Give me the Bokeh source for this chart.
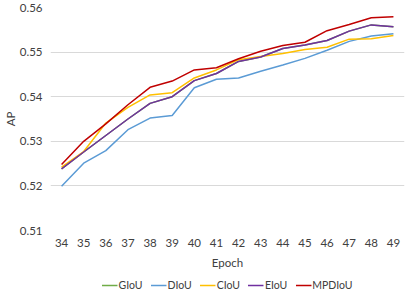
from bokeh.plotting import figure
from bokeh.layouts import column
from bokeh.models import Legend, LegendItem, Range1d, FixedTicker, CustomJSTickFormatter
from bokeh.embed import file_html
from bokeh.resources import INLINE

epochs = [34, 35, 36, 37, 38, 39, 40, 41, 42, 43, 44, 45, 46, 47, 48, 49]
eiou = [0.5238, 0.5276, 0.5313, 0.5350, 0.5385, 0.5400, 0.5436, 0.5452,
        0.5479, 0.5489, 0.5508, 0.5516, 0.5526, 0.5547, 0.5561, 0.5557]
giou = list(eiou)
diou = [0.5199, 0.5251, 0.5279, 0.5326, 0.5352, 0.5358, 0.5420, 0.5439,
        0.5442, 0.5457, 0.5471, 0.5486, 0.5504, 0.5524, 0.5536, 0.5541]
ciou = [0.5242, 0.5277, 0.5341, 0.5376, 0.5404, 0.5409, 0.5442, 0.5460,
        0.5483, 0.5490, 0.5497, 0.5506, 0.5511, 0.5529, 0.5530, 0.5537]
mpdiou = [0.5248, 0.5300, 0.5339, 0.5382, 0.5421, 0.5435, 0.5460, 0.5465,
          0.5485, 0.5502, 0.5515, 0.5522, 0.5548, 0.5562, 0.5577, 0.5579]
y_ticks = [0.51, 0.52, 0.53, 0.54, 0.55, 0.56]

series = [("GIoU", giou, "#70AD47"), ("DIoU", diou, "#5B9BD5"),
          ("CIoU", ciou, "#FFC000"), ("EIoU", eiou, "#7030A0"),
          ("MPDIoU", mpdiou, "#C00000")]

FONT = "Lato"
TXT = "#404040"
FS = "11.5px"

p = figure(frame_width=354, frame_height=223, output_backend="svg",
           toolbar_location=None,
           x_range=Range1d(33.5, 49.5), y_range=Range1d(0.51, 0.56),
           min_border_left=50, min_border_right=3, min_border_top=7,
           min_border_bottom=42, outline_line_color=None)

for name, vals, col in series:
    p.line(epochs, vals, line_color=col, line_width=1.5)

p.xaxis.ticker = FixedTicker(ticks=epochs)
p.yaxis.ticker = FixedTicker(ticks=y_ticks)
p.yaxis.formatter = CustomJSTickFormatter(code="return tick.toFixed(2);")

for ax in (p.xaxis[0], p.yaxis[0]):
    ax.axis_line_color = None
    ax.major_tick_line_color = None
    ax.minor_tick_line_color = None
    ax.major_tick_out = 0
    ax.major_tick_in = 0
    ax.major_label_text_font = FONT
    ax.major_label_text_font_size = FS
    ax.major_label_text_color = TXT
    ax.axis_label_text_font = FONT
    ax.axis_label_text_font_size = FS
    ax.axis_label_text_font_style = "normal"
    ax.axis_label_text_color = TXT

p.xaxis.axis_label = "Epoch"
p.yaxis.axis_label = "AP"
p.xaxis.major_label_standoff = 8
p.xaxis.axis_label_standoff = 6
p.yaxis.major_label_standoff = 8
p.yaxis.axis_label_standoff = 0

p.xgrid.grid_line_color = None
p.ygrid.grid_line_color = "#D9D9D9"
p.ygrid.grid_line_width = 1

# legend strip (its lines lie outside its visible ranges; only the legend shows)
lg = figure(width=407, height=25, output_backend="svg", toolbar_location=None,
            x_axis_location=None, y_axis_location=None,
            x_range=Range1d(0, 1), y_range=Range1d(0, 1),
            min_border_left=0, min_border_right=0, min_border_top=0,
            min_border_bottom=0, outline_line_color=None)
lg.xgrid.grid_line_color = None
lg.ygrid.grid_line_color = None
items = []
for name, vals, col in series:
    r = lg.line(epochs, vals, line_color=col, line_width=1.5)
    items.append(LegendItem(label=name, renderers=[r]))

legend = Legend(items=items, orientation="horizontal", location="center",
                border_line_color=None, background_fill_alpha=0,
                label_text_font=FONT, label_text_font_size="10.5px",
                label_text_color=TXT, glyph_width=16, glyph_height=12,
                label_standoff=1, spacing=8, padding=0, margin=0,
                label_height=12)
lg.add_layout(legend, "center")

layout = column(p, lg, spacing=0)
open("out.html", "w").write(file_html(layout, INLINE))
